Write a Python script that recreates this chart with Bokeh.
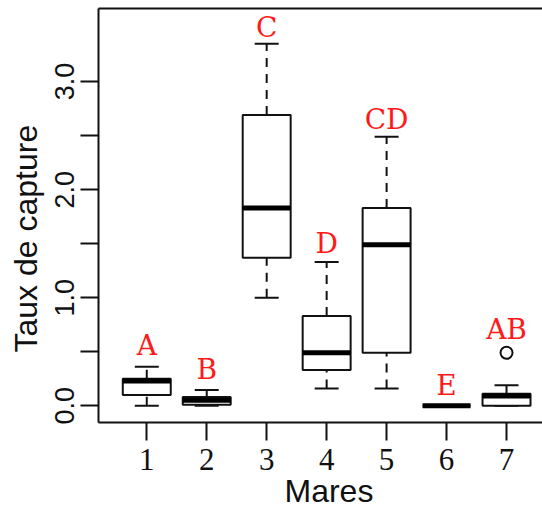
import numpy as np
from bokeh.plotting import figure
from bokeh.models import (ColumnDataSource, FixedTicker, LinearAxis, Title, Range1d)
from bokeh.core.properties import value
from bokeh.embed import file_html
from bokeh.resources import INLINE

# ---- data ----
mares = [1, 2, 3, 4, 5, 6, 7]
lower = [0.00, 0.00, 1.00, 0.16, 0.16, 0.00, 0.00]
q1 = [0.10, 0.01, 1.37, 0.33, 0.49, 0.00, 0.00]
median = [0.23, 0.05, 1.83, 0.49, 1.49, 0.00, 0.09]
q3 = [0.25, 0.08, 2.69, 0.83, 1.83, 0.00, 0.11]
upper = [0.36, 0.145, 3.35, 1.33, 2.49, 0.00, 0.19]
outlier_x = [7]
outlier_y = [0.49]
groups = ["A", "B", "C", "D", "CD", "E", "AB"]
group_y = [0.56, 0.34, 3.50, 1.50, 2.65, 0.19, 0.71]
y_ticks = [0.0, 0.5, 1.0, 1.5, 2.0, 2.5, 3.0]
y_tick_labels = ["0.0", "", "1.0", "", "2.0", "", "3.0"]

BOXW = 0.8
CAPW = 0.4
INK = "#111111"

x = np.array(mares, dtype=float)
src = ColumnDataSource(dict(
    x=x, lower=lower, q1=q1, median=median, q3=q3, upper=upper,
    xl=x - BOXW / 2, xr=x + BOXW / 2,
    cl=x - CAPW / 2, cr=x + CAPW / 2,
))

p = figure(width=542, height=510, output_backend="svg", toolbar_location=None,
           x_range=Range1d(0.195, 7.6), y_range=Range1d(-0.155, 3.676),
           x_axis_location=None, y_axis_location=None,
           min_border_left=98, min_border_right=0, min_border_top=8,
           min_border_bottom=88)
p.outline_line_color = None
p.xgrid.visible = False
p.ygrid.visible = False
p.background_fill_color = "white"
p.border_fill_color = "white"

# axes
xa = LinearAxis(ticker=FixedTicker(ticks=mares))
xa.major_label_overrides = {m: str(m) for m in mares}
xa.major_tick_out = 18
xa.major_tick_in = 0
xa.minor_tick_out = 0
xa.minor_tick_in = 0
xa.major_tick_line_width = 2
xa.major_tick_line_color = INK
xa.axis_line_width = 2
xa.axis_line_color = INK
xa.major_label_text_font = "Liberation Serif"
xa.major_label_text_font_size = "31px"
xa.major_label_text_color = INK
xa.major_label_standoff = 8
p.add_layout(xa, "below")

ya = LinearAxis(ticker=FixedTicker(ticks=y_ticks))
ya.major_label_overrides = dict(zip(y_ticks, y_tick_labels))
ya.major_tick_out = 18
ya.major_tick_in = 0
ya.minor_tick_out = 0
ya.minor_tick_in = 0
ya.major_tick_line_width = 2
ya.major_tick_line_color = INK
ya.axis_line_width = 2
ya.axis_line_color = INK
ya.major_label_orientation = "vertical"
ya.major_label_text_font = "Liberation Sans"
ya.major_label_text_font_size = "27px"
ya.major_label_text_color = INK
ya.major_label_standoff = 6
p.add_layout(ya, "left")

ta = LinearAxis(ticker=FixedTicker(ticks=[]))
ta.major_tick_out = 0
ta.major_tick_in = 0
ta.minor_tick_out = 0
ta.minor_tick_in = 0
ta.major_label_standoff = 0
ta.major_label_text_font_size = "0px"
ta.axis_line_width = 2
ta.axis_line_color = INK
p.add_layout(ta, "above")

# whiskers (dashed)
p.segment(x0="x", y0="q3", x1="x", y1="upper", source=src,
          line_color=INK, line_width=2, line_dash="9 7")
p.segment(x0="x", y0="lower", x1="x", y1="q1", source=src,
          line_color=INK, line_width=2, line_dash="9 7")
# staples
p.segment(x0="cl", y0="upper", x1="cr", y1="upper", source=src,
          line_color=INK, line_width=2)
p.segment(x0="cl", y0="lower", x1="cr", y1="lower", source=src,
          line_color=INK, line_width=2)
# boxes
p.quad(left="xl", right="xr", bottom="q1", top="q3", source=src,
       fill_color="white", line_color=INK, line_width=2)
# medians
p.segment(x0="xl", y0="median", x1="xr", y1="median", source=src,
          line_color="black", line_width=5)
# outliers
p.scatter(x=outlier_x, y=outlier_y, marker="circle", size=12,
          fill_color="white", line_color=INK, line_width=2)

# group letters
p.text(x=mares, y=group_y, text=groups, text_color="#FF1A1A",
       text_font=value("DejaVu Serif"), text_font_size="28px",
       text_align="center", text_baseline="middle")

# axis titles
ytitle = Title(text="Taux de capture", align="left", offset=70, standoff=14,
               vertical_align="top",
               text_font="Liberation Sans", text_font_size="32px",
               text_font_style="normal", text_color=INK)
p.add_layout(ytitle, "left")
xtitle = Title(text="Mares", align="left", offset=186, standoff=0,
               vertical_align="top",
               text_font="Liberation Sans", text_font_size="32px",
               text_font_style="normal", text_color=INK)
p.add_layout(xtitle, "below")

open("out.html", "w").write(file_html(p, INLINE))
